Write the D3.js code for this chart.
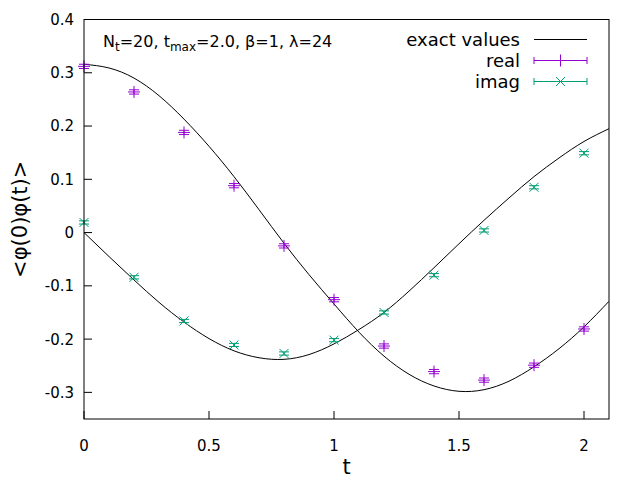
<!DOCTYPE html>
<html>
<head>
<meta charset="utf-8">
<title>phi correlator</title>
<script src="https://d3js.org/d3.v7.min.js"></script>
<style>
  body { margin: 0; background: white; }
  svg { display: block; font-family: "DejaVu Sans", sans-serif; }
</style>
</head>
<body>
<svg width="640" height="480"></svg>
<script>
// sampled times of the measured points
const times = [0, 0.2, 0.4, 0.6, 0.8, 1.0, 1.2, 1.4, 1.6, 1.8, 2.0];
const realVals = [0.312, 0.264, 0.188, 0.088, -0.025, -0.126, -0.213, -0.261, -0.277, -0.249, -0.181];
const realErr  = [0.004, 0.004, 0.004, 0.004, 0.004, 0.004, 0.004, 0.004, 0.004, 0.004, 0.004];
const imagVals = [0.019, -0.084, -0.166, -0.211, -0.227, -0.202, -0.150, -0.080, 0.004, 0.085, 0.149];
const imagErr  = [0.003, 0.003, 0.003, 0.003, 0.003, 0.003, 0.003, 0.003, 0.003, 0.003, 0.003];

// exact curves every 0.1
const exactT = [0, 0.1, 0.2, 0.3, 0.4, 0.5, 0.6, 0.7, 0.8, 0.9, 1.0, 1.1, 1.2, 1.3, 1.4, 1.5, 1.6, 1.7, 1.8, 1.9, 2.0, 2.1];
const exactReal = [0.316, 0.309, 0.290, 0.257, 0.213, 0.162, 0.105, 0.043, -0.020, -0.079, -0.134, -0.187, -0.232, -0.266, -0.288, -0.298, -0.295, -0.279, -0.252, -0.218, -0.177, -0.129];
const exactImag = [0.000, -0.045, -0.089, -0.131, -0.168, -0.199, -0.222, -0.235, -0.238, -0.229, -0.209, -0.182, -0.150, -0.110, -0.066, -0.021, 0.023, 0.065, 0.105, 0.140, 0.171, 0.195];

const xTicks = [0, 0.5, 1, 1.5, 2];
const yTicks = [-0.3, -0.2, -0.1, 0, 0.1, 0.2, 0.3, 0.4];

const purple = "#9400d3";
const green = "#009e73";

const svg = d3.select("svg");
const pl = 84, pr = 609, pt = 19.5, pb = 419;

const x = d3.scaleLinear().domain([0, 2.1]).range([pl, pr]);
const y = d3.scaleLinear().domain([-0.35, 0.4]).range([pb, pt]);

// ticks (no mirror)
const tickLen = 8;
const gx = svg.append("g");
gx.selectAll("line").data(xTicks).enter().append("line")
  .attr("x1", d => x(d)).attr("x2", d => x(d))
  .attr("y1", pb).attr("y2", pb - tickLen)
  .attr("stroke", "black");
gx.selectAll("text").data(xTicks).enter().append("text")
  .attr("x", d => x(d)).attr("y", 451)
  .attr("text-anchor", "middle")
  .attr("font-size", 15)
  .text(d => String(d));

const gy = svg.append("g");
gy.selectAll("line").data(yTicks).enter().append("line")
  .attr("x1", pl).attr("x2", pl + tickLen)
  .attr("y1", d => y(d)).attr("y2", d => y(d))
  .attr("stroke", "black");
gy.selectAll("text").data(yTicks).enter().append("text")
  .attr("x", 74).attr("y", d => y(d))
  .attr("dy", "0.36em")
  .attr("text-anchor", "end")
  .attr("font-size", 15)
  .text(d => d === 0 ? "0" : d3.format(".1f")(d).replace("−", "-"));

// exact curves
svg.append("clipPath").attr("id", "plot")
  .append("rect").attr("x", pl).attr("y", pt)
  .attr("width", pr - pl).attr("height", pb - pt);

const line = d3.line()
  .x(d => x(d[0])).y(d => y(d[1]))
  .curve(d3.curveNatural);

[exactReal, exactImag].forEach(vals => {
  svg.append("path")
    .attr("clip-path", "url(#plot)")
    .attr("d", line(exactT.map((t, i) => [t, vals[i]])))
    .attr("fill", "none")
    .attr("stroke", "black")
    .attr("stroke-width", 1);
});

// point symbols with error bars
const half = 6, cap = 5;
function seg(g, x1, y1, x2, y2, color) {
  g.append("line").attr("x1", x1).attr("y1", y1).attr("x2", x2).attr("y2", y2)
    .attr("stroke", color).attr("stroke-width", 1);
}
function drawPoint(g, cx, cy, eTop, eBot, kind, color) {
  seg(g, cx, eTop, cx, eBot, color);
  seg(g, cx - cap, eTop, cx + cap, eTop, color);
  seg(g, cx - cap, eBot, cx + cap, eBot, color);
  if (kind === "plus") {
    seg(g, cx - half, cy, cx + half, cy, color);
    seg(g, cx, cy - half, cx, cy + half, color);
  } else {
    const h = 4.5;
    seg(g, cx - h, cy - h, cx + h, cy + h, color);
    seg(g, cx - h, cy + h, cx + h, cy - h, color);
  }
}

const series = [
  { vals: realVals, err: realErr, kind: "plus", color: purple },
  { vals: imagVals, err: imagErr, kind: "cross", color: green }
];
series.forEach(s => {
  const g = svg.append("g");
  times.forEach((t, i) => {
    drawPoint(g, x(t), y(s.vals[i]), y(s.vals[i] + s.err[i]), y(s.vals[i] - s.err[i]), s.kind, s.color);
  });
});

// border
svg.append("rect")
  .attr("x", pl).attr("y", pt)
  .attr("width", pr - pl).attr("height", pb - pt)
  .attr("fill", "none").attr("stroke", "black").attr("stroke-width", 1);

// key
const keyX1 = 534, keyX2 = 587, keyText = 520;
const keyRows = [
  { label: "exact values", y: 39.5, kind: "line", color: "black" },
  { label: "real", y: 60.5, kind: "plus", color: purple },
  { label: "imag", y: 81.5, kind: "cross", color: green }
];
keyRows.forEach(r => {
  svg.append("text")
    .attr("x", keyText).attr("y", r.y).attr("dy", "0.36em")
    .attr("text-anchor", "end").attr("font-size", 18)
    .text(r.label);
  const g = svg.append("g");
  seg(g, keyX1, r.y, keyX2, r.y, r.color);
  if (r.kind !== "line") {
    seg(g, keyX1, r.y - 3.5, keyX1, r.y + 3.5, r.color);
    seg(g, keyX2, r.y - 3.5, keyX2, r.y + 3.5, r.color);
    const cx = (keyX1 + keyX2) / 2;
    if (r.kind === "plus") {
      seg(g, cx, r.y - half, cx, r.y + half, r.color);
    } else {
      const h = 4.5;
      seg(g, cx - h, r.y - h, cx + h, r.y + h, r.color);
      seg(g, cx - h, r.y + h, cx + h, r.y - h, r.color);
    }
  }
});

// annotation
const note = svg.append("text").attr("x", 103).attr("y", 47).attr("font-size", 16);
note.append("tspan").text("N");
note.append("tspan").attr("font-size", 12).attr("dy", 4).text("t");
note.append("tspan").attr("dy", -4).text("=20, t");
note.append("tspan").attr("font-size", 12).attr("dy", 4).text("max");
note.append("tspan").attr("dy", -4).text("=2.0, β=1, λ=24");

// axis labels
svg.append("text")
  .attr("x", x(1.05)).attr("y", 474)
  .attr("text-anchor", "middle").attr("font-size", 21)
  .text("t");
svg.append("text")
  .attr("transform", "translate(27," + ((pt + pb) / 2) + ") rotate(-90)")
  .attr("text-anchor", "middle").attr("font-size", 21)
  .text("<φ(0)φ(t)>");
</script>
</body>
</html>
